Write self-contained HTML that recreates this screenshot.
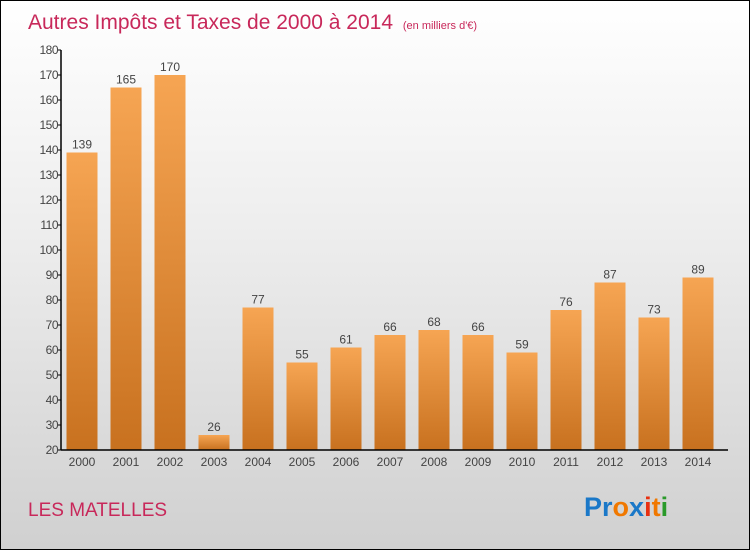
<!DOCTYPE html>
<html><head><meta charset="utf-8"><style>
html,body{margin:0;padding:0}
body{width:750px;height:550px;overflow:hidden;font-family:"Liberation Sans",sans-serif}
#wrap{position:relative;width:748px;height:548px;border:1px solid #000;background:linear-gradient(#ffffff 0%,#ececec 45%,#d0d0d0 100%)}
</style></head><body>
<div id="wrap">
<svg id="chart" width="748" height="548">
<defs>
<linearGradient id="bg" x1="0" y1="0" x2="0" y2="1"><stop offset="0" stop-color="#f6a553"/><stop offset="1" stop-color="#c8711f"/></linearGradient>
</defs>
<text x="27" y="28" font-size="21" fill="#c8285a">Autres Impôts et Taxes de 2000 à 2014 <tspan font-size="11" dx="4">(en milliers d'€)</tspan></text>
<g id="bars"></g>
<g id="axis"></g>
<text x="27" y="515" font-size="19" fill="#c8285a">LES MATELLES</text>
<g font-size="27" font-weight="bold" font-family="Liberation Sans,sans-serif">
<text x="583" y="515"><tspan fill="#1a78c8">Pr</tspan><tspan fill="#f07800">o</tspan><tspan fill="#1a78c8">x</tspan><tspan fill="#e83010">i</tspan><tspan fill="#f07800">t</tspan><tspan fill="#2a9a2a">i</tspan></text>
</g>
</svg>
</div>
<script>
const years=["2000","2001","2002","2003","2004","2005","2006","2007","2008","2009","2010","2011","2012","2013","2014"];
const values=[139,165,170,26,77,55,61,66,68,66,59,76,87,73,89];
const yTicks=[20,30,40,50,60,70,80,90,100,110,120,130,140,150,160,170,180];
const ns="http://www.w3.org/2000/svg";
const yMin=20,yMax=180,plotTop=49,plotBot=449,axX=60;
const y=v=>plotBot-(v-yMin)/(yMax-yMin)*(plotBot-plotTop);
const xc=i=>81+44*i;
const bars=document.getElementById('bars'),axis=document.getElementById('axis');
function mk(t,a,p){const e=document.createElementNS(ns,t);for(const k in a)e.setAttribute(k,a[k]);p.appendChild(e);return e;}
values.forEach((v,i)=>{
 const r=mk('rect',{x:xc(i)-15.5,y:y(v),width:31,height:plotBot-y(v),fill:'url(#bg)'},bars);
 
 
 const t=mk('text',{x:xc(i),y:y(v)-4,'text-anchor':'middle','font-size':12,fill:'#444'},bars);
 t.textContent=v;
 
 
 const xl=mk('text',{x:xc(i),y:plotBot+16,'text-anchor':'middle','font-size':12,fill:'#444'},axis);
 xl.textContent=years[i];
 
 
});
const yl=mk('line',{x1:axX,y1:plotTop,x2:axX,y2:plotBot,stroke:'#000','stroke-width':1.5},axis);


const xa=mk('line',{x1:axX,y1:plotBot,x2:727,y2:plotBot,stroke:'#000','stroke-width':1.5},axis);


yTicks.forEach(v=>{
 mk('line',{x1:axX-4,y1:y(v),x2:axX,y2:y(v),stroke:'#000'},axis);
 const t=mk('text',{x:axX-3,y:y(v)+4,'text-anchor':'end','font-size':12,fill:'#444','letter-spacing':'-0.5'},axis);
 t.textContent=v;
 
 
});
</script>
</body></html>
